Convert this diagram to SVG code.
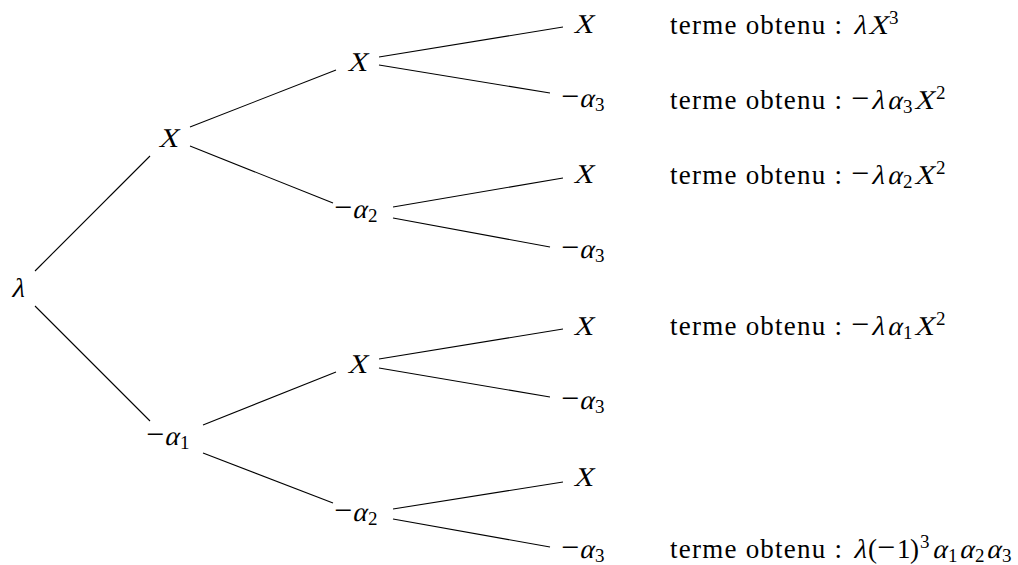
<svg xmlns="http://www.w3.org/2000/svg" width="1018" height="565" viewBox="0 0 1018 565" font-family="Liberation Serif" font-size="27">
<defs>
<style>
.e line{stroke:#000;stroke-width:1.1}
</style>
</defs>
<rect width="1018" height="565" fill="#fff"/>
<g id="connectors" class="e">
<line x1="35" y1="271" x2="150" y2="156"/>
<line x1="35" y1="306" x2="150" y2="421"/>
<line x1="190" y1="127" x2="336" y2="70"/>
<line x1="190" y1="146" x2="333" y2="203"/>
<line x1="203" y1="425" x2="336" y2="372"/>
<line x1="203" y1="453" x2="333" y2="503"/>
<line x1="379" y1="57" x2="563" y2="27"/>
<line x1="379" y1="65" x2="550" y2="93"/>
<line x1="393" y1="207" x2="563" y2="178"/>
<line x1="393" y1="218" x2="550" y2="247"/>
<line x1="379" y1="359" x2="563" y2="329"/>
<line x1="379" y1="368" x2="550" y2="397"/>
<line x1="393" y1="509" x2="563" y2="482"/>
<line x1="393" y1="519" x2="550" y2="547"/>
</g>
<g id="n-root"><text transform="translate(17.5,297) skewX(-14)" font-family="Liberation Serif" text-anchor="middle">λ</text></g>
<g id="n-x1"><text transform="translate(168,147) skewX(-14)" font-family="Liberation Serif" text-anchor="middle">X</text></g>
<g id="n-a1"><text x="146" y="445" font-size="32" font-family="Liberation Serif">−</text><text transform="translate(164,445) skewX(-14)" font-family="Liberation Serif">α</text><text x="180" y="449" font-size="19" font-family="Liberation Serif">1</text></g>
<g id="n-x2a"><text transform="translate(357,71) skewX(-14)" font-family="Liberation Serif" text-anchor="middle">X</text></g>
<g id="n-a2a"><text x="334" y="218" font-size="32" font-family="Liberation Serif">−</text><text transform="translate(352,218) skewX(-14)" font-family="Liberation Serif">α</text><text x="368" y="222" font-size="19" font-family="Liberation Serif">2</text></g>
<g id="n-x2b"><text transform="translate(357,373) skewX(-14)" font-family="Liberation Serif" text-anchor="middle">X</text></g>
<g id="n-a2b"><text x="334" y="521" font-size="32" font-family="Liberation Serif">−</text><text transform="translate(352,521) skewX(-14)" font-family="Liberation Serif">α</text><text x="368" y="525" font-size="19" font-family="Liberation Serif">2</text></g>
<g id="n-x3a"><text transform="translate(583,33) skewX(-14)" font-family="Liberation Serif" text-anchor="middle">X</text></g>
<g id="n-a3a"><text x="561" y="107" font-size="32" font-family="Liberation Serif">−</text><text transform="translate(579,107) skewX(-14)" font-family="Liberation Serif">α</text><text x="595" y="111" font-size="19" font-family="Liberation Serif">3</text></g>
<g id="n-x3b"><text transform="translate(583,183) skewX(-14)" font-family="Liberation Serif" text-anchor="middle">X</text></g>
<g id="n-a3b"><text x="561" y="258" font-size="32" font-family="Liberation Serif">−</text><text transform="translate(579,258) skewX(-14)" font-family="Liberation Serif">α</text><text x="595" y="262" font-size="19" font-family="Liberation Serif">3</text></g>
<g id="n-x3c"><text transform="translate(583,335) skewX(-14)" font-family="Liberation Serif" text-anchor="middle">X</text></g>
<g id="n-a3c"><text x="561" y="409" font-size="32" font-family="Liberation Serif">−</text><text transform="translate(579,409) skewX(-14)" font-family="Liberation Serif">α</text><text x="595" y="413" font-size="19" font-family="Liberation Serif">3</text></g>
<g id="n-x3d"><text transform="translate(583,486) skewX(-14)" font-family="Liberation Serif" text-anchor="middle">X</text></g>
<g id="n-a3d"><text x="561" y="558" font-size="32" font-family="Liberation Serif">−</text><text transform="translate(579,558) skewX(-14)" font-family="Liberation Serif">α</text><text x="595" y="562" font-size="19" font-family="Liberation Serif">3</text></g>
<g id="labels">
<text x="670" y="34" textLength="172" lengthAdjust="spacing">terme obtenu :</text>
<text transform="translate(853,34) skewX(-14)" font-family="Liberation Serif">λ</text><text transform="translate(868,34) skewX(-14)" font-family="Liberation Serif">X</text><text x="889" y="24" font-size="19" font-family="Liberation Serif">3</text>
<text x="670" y="109" textLength="172" lengthAdjust="spacing">terme obtenu :</text>
<text x="851" y="109" font-size="32" font-family="Liberation Serif">−</text><text transform="translate(871,109) skewX(-14)" font-family="Liberation Serif">λ</text><text transform="translate(887,109) skewX(-14)" font-family="Liberation Serif">α</text><text x="903" y="113" font-size="19" font-family="Liberation Serif">3</text><text transform="translate(914,109) skewX(-14)" font-family="Liberation Serif">X</text><text x="936" y="99" font-size="19" font-family="Liberation Serif">2</text>
<text x="670" y="184" textLength="172" lengthAdjust="spacing">terme obtenu :</text>
<text x="851" y="184" font-size="32" font-family="Liberation Serif">−</text><text transform="translate(871,184) skewX(-14)" font-family="Liberation Serif">λ</text><text transform="translate(887,184) skewX(-14)" font-family="Liberation Serif">α</text><text x="903" y="188" font-size="19" font-family="Liberation Serif">2</text><text transform="translate(914,184) skewX(-14)" font-family="Liberation Serif">X</text><text x="936" y="174" font-size="19" font-family="Liberation Serif">2</text>
<text x="670" y="335" textLength="172" lengthAdjust="spacing">terme obtenu :</text>
<text x="851" y="335" font-size="32" font-family="Liberation Serif">−</text><text transform="translate(871,335) skewX(-14)" font-family="Liberation Serif">λ</text><text transform="translate(887,335) skewX(-14)" font-family="Liberation Serif">α</text><text x="903" y="339" font-size="19" font-family="Liberation Serif">1</text><text transform="translate(914,335) skewX(-14)" font-family="Liberation Serif">X</text><text x="936" y="325" font-size="19" font-family="Liberation Serif">2</text>
<text x="670" y="558" textLength="172" lengthAdjust="spacing">terme obtenu :</text>
<text transform="translate(853,558) skewX(-14)" font-family="Liberation Serif">λ</text><text x="868" y="558" font-family="Liberation Serif">(</text><text x="877" y="558" font-size="32" font-family="Liberation Serif">−</text><text x="897" y="558" font-family="Liberation Serif">1</text><text x="910" y="558" font-family="Liberation Serif">)</text><text x="920" y="548" font-size="19" font-family="Liberation Serif">3</text><text transform="translate(932,558) skewX(-14)" font-family="Liberation Serif">α</text><text x="948" y="562" font-size="19" font-family="Liberation Serif">1</text><text transform="translate(959,558) skewX(-14)" font-family="Liberation Serif">α</text><text x="975" y="562" font-size="19" font-family="Liberation Serif">2</text><text transform="translate(986,558) skewX(-14)" font-family="Liberation Serif">α</text><text x="1002" y="562" font-size="19" font-family="Liberation Serif">3</text>
</g>
</svg>
